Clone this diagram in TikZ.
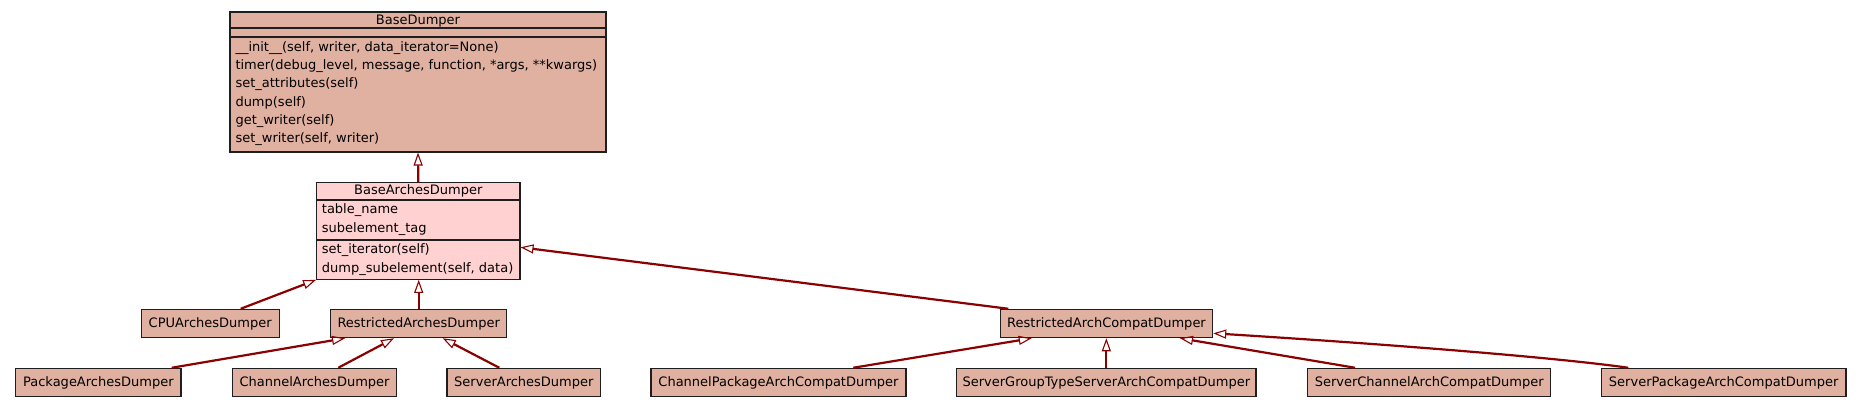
\documentclass[tikz,border=0pt]{standalone}
\usepackage{fontspec}
\setmainfont{DejaVu Sans}
\usetikzlibrary{arrows.meta}
\definecolor{boxfill}{RGB}{224,176,160}
\definecolor{basefill}{RGB}{255,209,209}
\definecolor{edgecol}{RGB}{139,0,0}
\definecolor{bordercol}{RGB}{30,30,30}
\begin{document}
\begin{tikzpicture}[x=1pt,y=-1pt,
  txt/.style={font=\fontsize{13pt}{15pt}\selectfont},
  cls/.style={txt, draw=bordercol, line width=1.1pt, fill=boxfill, inner sep=0pt,
    text height=10.5pt, text depth=2.5pt, minimum height=28.4pt},
  member/.style={txt, anchor=base west, inner sep=0pt},
  title/.style={txt, anchor=base, inner sep=0pt},
  sep/.style={line width=1.1pt, draw=bordercol},
  inherit/.style={draw=edgecol, line width=2.2pt,
    -{Triangle[open, length=13pt, width=9pt, line width=1.1pt]}},
]
\fill[white] (0,0) rectangle (1861,408);
\useasboundingbox (0,0) rectangle (1861,408);

% BaseDumper
\node[cls, minimum width=376pt, minimum height=140pt] (base) at (418,82) {};
\draw[sep] (230,28) -- (606,28);
\draw[sep] (230,37) -- (606,37);
\node[title] (baset) at (418,24) {BaseDumper};
\node[member] (bm1) at (235.3,51.1) {\_\_init\_\_(self, writer, data\_iterator=None)};
\node[member] (bm2) at (235.3,69.4) {timer(debug\_level, message, function, *args, **kwargs)};
\node[member] (bm3) at (235.3,87.7) {set\_attributes(self)};
\node[member] (bm4) at (235.3,106) {dump(self)};
\node[member] (bm5) at (235.3,124.3) {get\_writer(self)};
\node[member] (bm6) at (235.3,142.6) {set\_writer(self, writer)};

% BaseArchesDumper
\node[cls, fill=basefill, minimum width=203.3pt, minimum height=96.6pt] (bad) at (418.3,231) {};
\draw[sep] (316.7,200) -- (520,200);
\draw[sep] (316.7,240) -- (520,240);
\node[title] (badt) at (418.3,194.5) {BaseArchesDumper};
\node[member] (ba1) at (321.7,213.5) {table\_name};
\node[member] (ba2) at (321.7,232.8) {subelement\_tag};
\node[member] (ba3) at (321.7,253.8) {set\_iterator(self)};
\node[member] (ba4) at (321.7,272.8) {dump\_subelement(self, data)};

% row 1
\node[cls, minimum width=138.3pt] (cpu) at (210.2,323.5) {CPUArchesDumper};
\node[cls, minimum width=176pt] (restricted) at (418.7,323.5) {RestrictedArchesDumper};
\node[cls, minimum width=212.4pt] (compat) at (1106.5,323.5) {RestrictedArchCompatDumper};

% row 2
\node[cls, minimum width=165.3pt] (package) at (98.35,382.5) {PackageArchesDumper};
\node[cls, minimum width=164.4pt] (channel) at (314.5,382.5) {ChannelArchesDumper};
\node[cls, minimum width=153.7pt] (server) at (523.85,382.5) {ServerArchesDumper};
\node[cls, minimum width=255pt] (chpkg) at (778.5,382.5) {ChannelPackageArchCompatDumper};
\node[cls, minimum width=299.3pt] (sgt) at (1106.35,382.5) {ServerGroupTypeServerArchCompatDumper};
\node[cls, minimum width=243pt] (srvch) at (1429.2,382.5) {ServerChannelArchCompatDumper};
\node[cls, minimum width=244.7pt] (srvpkg) at (1723.65,382.5) {ServerPackageArchCompatDumper};

% inheritance edges
\draw[inherit] (bad.north) -- (base.south);
\draw[inherit] ([xshift=30.5pt]cpu.north) -- (bad.south west);
\draw[inherit] (restricted.north) -- (restricted.north |- bad.south);
\draw[inherit] ([xshift=-98.2pt]compat.north) -- ([yshift=-16.3pt]bad.east);
\draw[inherit] ([xshift=73.35pt]package.north) -- ([xshift=-73.7pt]restricted.south);
\draw[inherit] ([xshift=23.8pt]channel.north) -- ([xshift=-24.7pt]restricted.south);
\draw[inherit] ([xshift=-24.55pt]server.north) -- ([xshift=24pt]restricted.south);
\draw[inherit] ([xshift=74.8pt]chpkg.north) -- ([xshift=-74.8pt]compat.south);
\draw[inherit] (sgt.north) -- (sgt.north |- compat.south);
\draw[inherit] ([xshift=-74.2pt]srvch.north) -- ([xshift=73.5pt]compat.south);
\draw[inherit] ([xshift=-95.35pt]srvpkg.north) .. controls (1560,358) and (1400,345) .. ([yshift=-9.8pt]compat.east);
\end{tikzpicture}
\end{document}
